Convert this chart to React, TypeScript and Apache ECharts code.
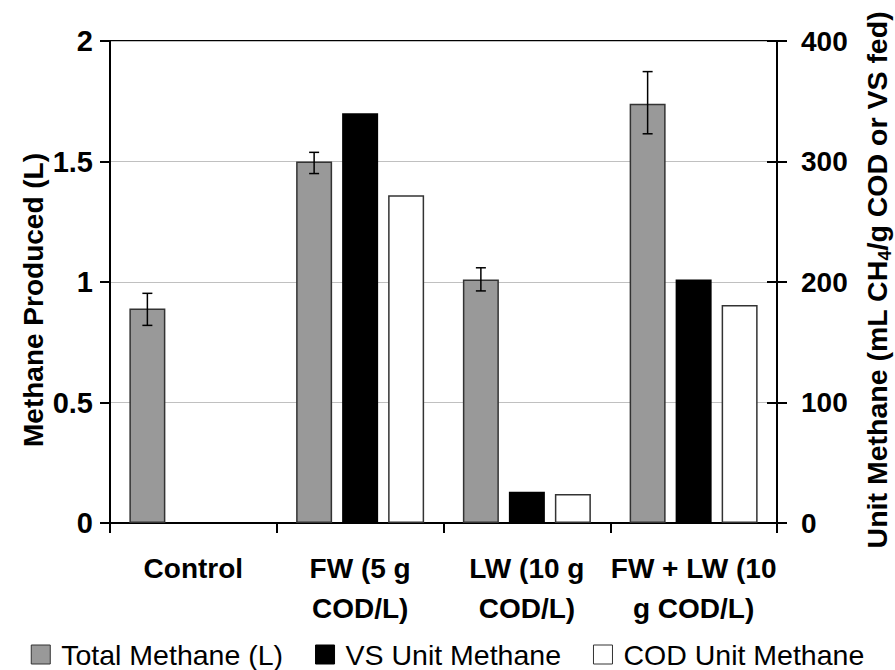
import React, { useEffect, useRef } from "react";
import * as echarts from "echarts";

const categories = ["Control", "FW (5 g\nCOD/L)", "LW (10 g\nCOD/L)", "FW + LW (10\ng COD/L)"];
const totalMethane = [0.89, 1.5, 1.01, 1.74];
const totalLow = [0.82, 1.45, 0.963, 1.615];
const totalHigh = [0.953, 1.538, 1.059, 1.873];
const vsUnit: (number | null)[] = [null, 340, 26, 202];
const codUnit: (number | null)[] = [null, 272, 24, 181];
const seriesNames = ["Total Methane (L)", "VS Unit Methane", "COD Unit Methane"];

const FONT = "'Liberation Sans', Arial, sans-serif";
const BAR_W = 36;
const BAR_GAP = 10;

export default function App() {
  const ref = useRef<HTMLDivElement>(null);
  useEffect(() => {
    document.body.style.margin = "0";
    const chart = echarts.init(ref.current!, null, { renderer: "svg" });
    const errData = categories.map((_, i) => [i, totalLow[i], totalHigh[i]]);
    chart.setOption({
      animation: false,
      grid: { left: 110, right: 118, top: 41, bottom: 147, show: true, borderColor: "#000", borderWidth: 2 },
      legend: {
        left: "center",
        top: 640,
        padding: 0,
        itemWidth: 19,
        itemHeight: 19,
        itemGap: 32,
        icon: "rect",
        textStyle: { fontSize: 28.5, color: "#000", fontFamily: FONT, lineHeight: 28, padding: [0, 0, 0, 6] },
        data: [
          { name: seriesNames[0], itemStyle: { color: "#999999", borderColor: "#333", borderWidth: 1 } },
          { name: seriesNames[1], itemStyle: { color: "#000", borderColor: "#000", borderWidth: 1 } },
          { name: seriesNames[2], itemStyle: { color: "#fff", borderColor: "#333", borderWidth: 1 } },
        ],
      },
      xAxis: {
        type: "category",
        data: categories,
        axisLine: { lineStyle: { color: "#000", width: 2 } },
        axisTick: { show: true, length: 10, lineStyle: { color: "#000", width: 2 }, interval: 0 },
        axisLabel: {
          interval: 0,
          margin: 25,
          fontSize: 28,
          fontWeight: "bold",
          fontFamily: FONT,
          color: "#000",
          lineHeight: 40,
        },
      },
      yAxis: [
        {
          type: "value",
          min: 0,
          max: 2,
          interval: 0.5,
          position: "left",
          axisLine: { show: true, lineStyle: { color: "#000", width: 2 } },
          axisTick: { show: true, length: 10, lineStyle: { color: "#000", width: 2 } },
          axisLabel: { margin: 17, fontSize: 29, fontWeight: "bold", fontFamily: FONT, color: "#000" },
          splitLine: { show: true, lineStyle: { color: "#c0c0c0", width: 1 } },
        },
        {
          type: "value",
          min: 0,
          max: 400,
          interval: 100,
          position: "right",
          axisLine: { show: true, lineStyle: { color: "#000", width: 2 } },
          axisTick: { show: true, length: 10, lineStyle: { color: "#000", width: 2 } },
          axisLabel: { margin: 24, fontSize: 28, fontWeight: "bold", fontFamily: FONT, color: "#000" },
          splitLine: { show: false },
        },
        {
          type: "value",
          min: 0,
          max: 400,
          interval: 100,
          position: "right",
          axisLine: { show: false },
          axisTick: { show: true, inside: true, length: 10, lineStyle: { color: "#000", width: 2 } },
          axisLabel: { show: false },
          splitLine: { show: false },
        },
      ],
      graphic: [
        {
          type: "text",
          x: 33,
          y: 300,
          rotation: Math.PI / 2,
          style: {
            text: "Methane Produced (L)",
            fontSize: 28,
            fontWeight: "bold",
            fontFamily: FONT,
            fill: "#000",
            align: "center",
            verticalAlign: "middle",
          },
        },
        {
          type: "text",
          x: 877,
          y: 280,
          rotation: Math.PI / 2,
          style: {
            text: "{a|Unit Methane (mL CH}{s|4}{a|/g COD or VS fed)}",
            fill: "#000",
            align: "center",
            verticalAlign: "middle",
            rich: {
              a: { fontSize: 28.5, fontWeight: "bold", fontFamily: FONT, fill: "#000", lineHeight: 34 },
              s: { fontSize: 18, fontWeight: "bold", fontFamily: FONT, fill: "#000", lineHeight: 18, verticalAlign: "bottom" },
            },
          },
        },
      ],
      series: [
        {
          name: seriesNames[0],
          type: "bar",
          yAxisIndex: 0,
          data: totalMethane,
          barWidth: BAR_W,
          barGap: (BAR_GAP / BAR_W) * 100 + "%",
          itemStyle: { color: "#999999", borderColor: "#333", borderWidth: 1.5 },
        },
        {
          name: seriesNames[1],
          type: "bar",
          yAxisIndex: 1,
          data: vsUnit,
          barWidth: BAR_W,
          barGap: (BAR_GAP / BAR_W) * 100 + "%",
          itemStyle: { color: "#000", borderColor: "#000", borderWidth: 0 },
        },
        {
          name: seriesNames[2],
          type: "bar",
          yAxisIndex: 1,
          data: codUnit,
          barWidth: BAR_W,
          barGap: (BAR_GAP / BAR_W) * 100 + "%",
          itemStyle: { color: "#fff", borderColor: "#333", borderWidth: 1.5 },
        },
        {
          type: "custom",
          yAxisIndex: 0,
          data: errData,
          encode: { x: 0, y: [1, 2] },
          z: 10,
          renderItem: (params: any, api: any) => {
            const idx = api.value(0);
            const lo = api.coord([idx, api.value(1)]);
            const hi = api.coord([idx, api.value(2)]);
            const x = hi[0] - (BAR_W + BAR_GAP);
            const st = { stroke: "#000", lineWidth: 1.5 };
            return {
              type: "group",
              children: [
                { type: "line", shape: { x1: x, y1: hi[1], x2: x, y2: lo[1] }, style: st },
                { type: "line", shape: { x1: x - 5, y1: hi[1], x2: x + 5, y2: hi[1] }, style: st },
                { type: "line", shape: { x1: x - 5, y1: lo[1], x2: x + 5, y2: lo[1] }, style: st },
              ],
            };
          },
        },
      ],
    });
    return () => chart.dispose();
  }, []);
  return <div ref={ref} style={{ width: 895, height: 670 }} />;
}
